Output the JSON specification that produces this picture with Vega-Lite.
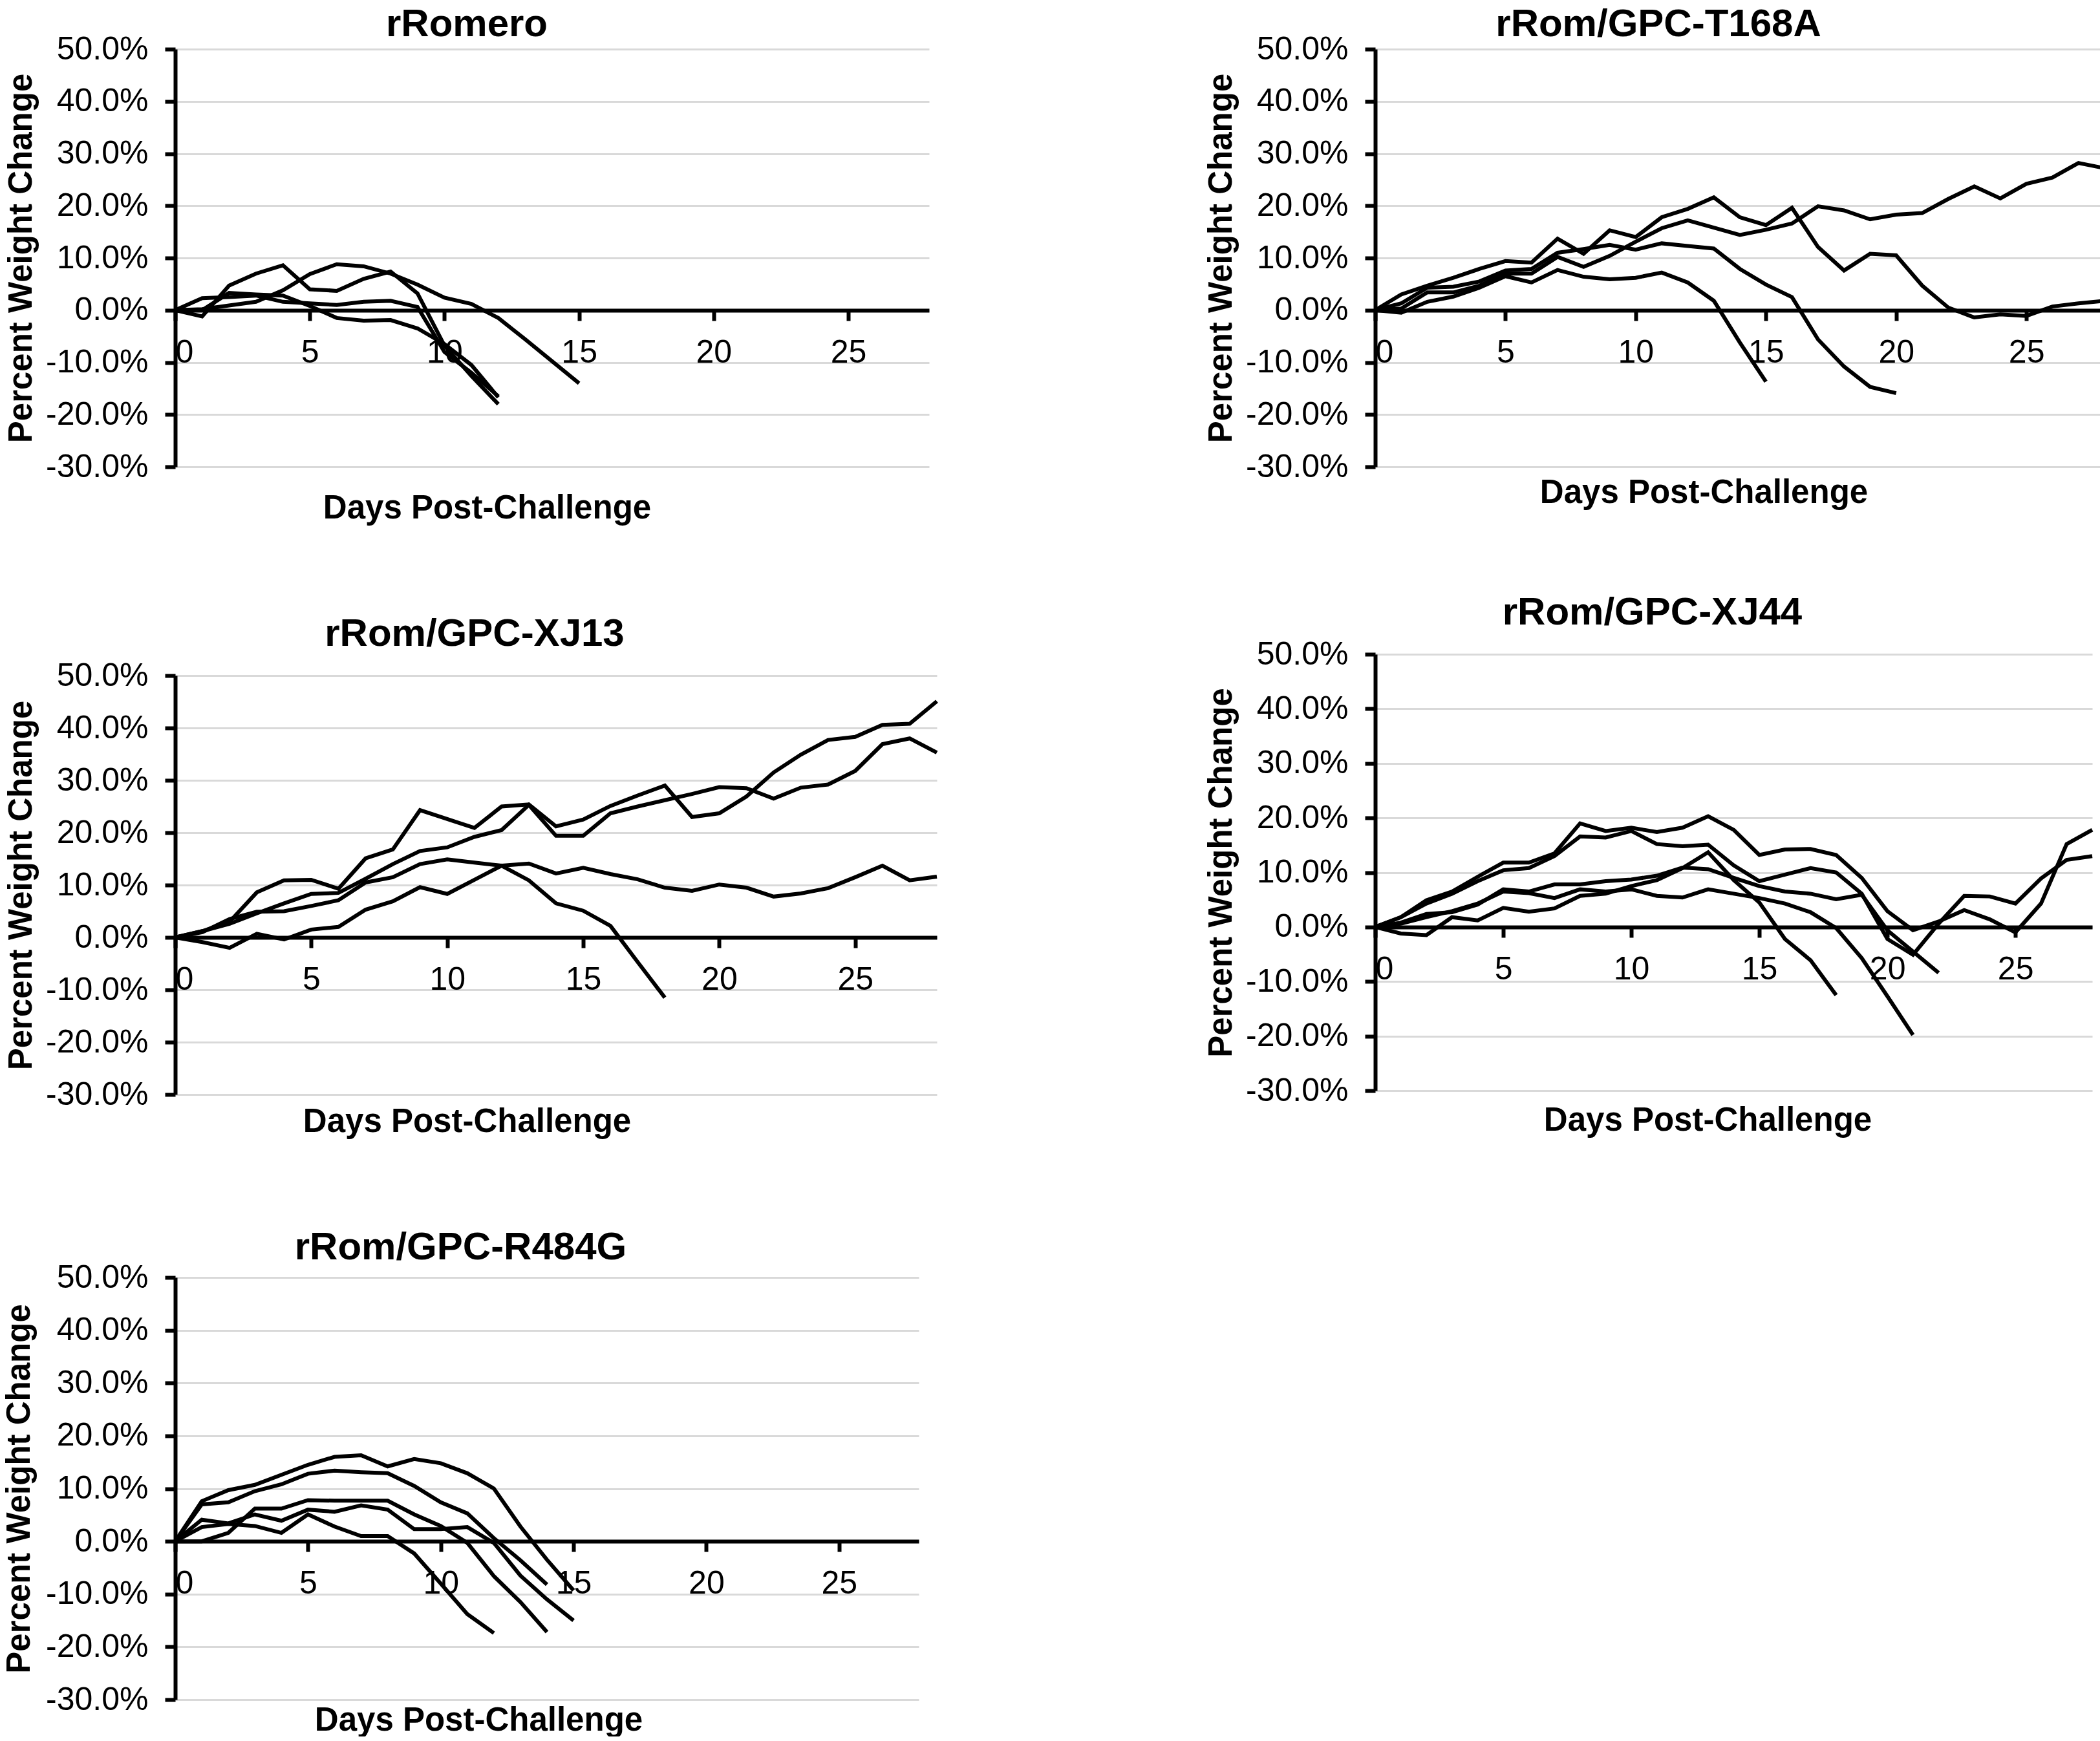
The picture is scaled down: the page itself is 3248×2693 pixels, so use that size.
{
  "$schema": "https://vega.github.io/schema/vega-lite/v6.json",
  "padding": {"top": 8, "left": 4, "right": 0, "bottom": 0},
  "background": "white",
  "data": {"values": [
    {"p":"R","a":1,"d":0,"v":0},{"p":"R","a":1,"d":1,"v":-1.2},{"p":"R","a":1,"d":2,"v":4.7},{"p":"R","a":1,"d":3,"v":7.0},{"p":"R","a":1,"d":4,"v":8.6},{"p":"R","a":1,"d":5,"v":4.0},{"p":"R","a":1,"d":6,"v":3.7},{"p":"R","a":1,"d":7,"v":6.0},{"p":"R","a":1,"d":8,"v":7.4},{"p":"R","a":1,"d":9,"v":3.2},{"p":"R","a":1,"d":10,"v":-6.8},{"p":"R","a":1,"d":11,"v":-12.6},{"p":"R","a":1,"d":12,"v":-18.0},
    {"p":"R","a":2,"d":0,"v":0},{"p":"R","a":2,"d":1,"v":0.2},{"p":"R","a":2,"d":2,"v":0.9},{"p":"R","a":2,"d":3,"v":1.6},{"p":"R","a":2,"d":4,"v":3.8},{"p":"R","a":2,"d":5,"v":6.9},{"p":"R","a":2,"d":6,"v":8.8},{"p":"R","a":2,"d":7,"v":8.4},{"p":"R","a":2,"d":8,"v":7.0},{"p":"R","a":2,"d":9,"v":4.9},{"p":"R","a":2,"d":10,"v":2.4},{"p":"R","a":2,"d":11,"v":1.2},{"p":"R","a":2,"d":12,"v":-1.5},{"p":"R","a":2,"d":13,"v":-5.6},{"p":"R","a":2,"d":14,"v":-9.8},{"p":"R","a":2,"d":15,"v":-14.0},
    {"p":"R","a":3,"d":0,"v":0},{"p":"R","a":3,"d":1,"v":2.3},{"p":"R","a":3,"d":2,"v":2.5},{"p":"R","a":3,"d":3,"v":2.8},{"p":"R","a":3,"d":4,"v":1.6},{"p":"R","a":3,"d":5,"v":1.3},{"p":"R","a":3,"d":6,"v":1.0},{"p":"R","a":3,"d":7,"v":1.6},{"p":"R","a":3,"d":8,"v":1.8},{"p":"R","a":3,"d":9,"v":0.6},{"p":"R","a":3,"d":10,"v":-8.0},{"p":"R","a":3,"d":11,"v":-12.0},{"p":"R","a":3,"d":12,"v":-16.5},
    {"p":"R","a":4,"d":0,"v":0},{"p":"R","a":4,"d":1,"v":0},{"p":"R","a":4,"d":2,"v":3.3},{"p":"R","a":4,"d":3,"v":3.0},{"p":"R","a":4,"d":4,"v":2.8},{"p":"R","a":4,"d":5,"v":0.8},{"p":"R","a":4,"d":6,"v":-1.5},{"p":"R","a":4,"d":7,"v":-2.0},{"p":"R","a":4,"d":8,"v":-1.9},{"p":"R","a":4,"d":9,"v":-3.5},{"p":"R","a":4,"d":10,"v":-6.5},{"p":"R","a":4,"d":11,"v":-10.5},{"p":"R","a":4,"d":12,"v":-16.7},

    {"p":"T","a":1,"d":0,"v":0},{"p":"T","a":1,"d":1,"v":0.3},{"p":"T","a":1,"d":2,"v":3.4},{"p":"T","a":1,"d":3,"v":3.4},{"p":"T","a":1,"d":4,"v":4.7},{"p":"T","a":1,"d":5,"v":7.0},{"p":"T","a":1,"d":6,"v":7.0},{"p":"T","a":1,"d":7,"v":10.2},{"p":"T","a":1,"d":8,"v":8.3},{"p":"T","a":1,"d":9,"v":10.4},{"p":"T","a":1,"d":10,"v":13.1},{"p":"T","a":1,"d":11,"v":15.7},{"p":"T","a":1,"d":12,"v":17.2},{"p":"T","a":1,"d":13,"v":15.8},{"p":"T","a":1,"d":14,"v":14.4},{"p":"T","a":1,"d":15,"v":15.4},{"p":"T","a":1,"d":16,"v":16.6},{"p":"T","a":1,"d":17,"v":19.9},{"p":"T","a":1,"d":18,"v":19.1},{"p":"T","a":1,"d":19,"v":17.4},{"p":"T","a":1,"d":20,"v":18.3},{"p":"T","a":1,"d":21,"v":18.6},{"p":"T","a":1,"d":22,"v":21.3},{"p":"T","a":1,"d":23,"v":23.7},{"p":"T","a":1,"d":24,"v":21.4},{"p":"T","a":1,"d":25,"v":24.2},{"p":"T","a":1,"d":26,"v":25.4},{"p":"T","a":1,"d":27,"v":28.2},{"p":"T","a":1,"d":28,"v":27.2},
    {"p":"T","a":2,"d":0,"v":0},{"p":"T","a":2,"d":1,"v":3.0},{"p":"T","a":2,"d":2,"v":4.7},{"p":"T","a":2,"d":3,"v":6.2},{"p":"T","a":2,"d":4,"v":7.9},{"p":"T","a":2,"d":5,"v":9.4},{"p":"T","a":2,"d":6,"v":9.1},{"p":"T","a":2,"d":7,"v":13.7},{"p":"T","a":2,"d":8,"v":10.8},{"p":"T","a":2,"d":9,"v":15.3},{"p":"T","a":2,"d":10,"v":14.0},{"p":"T","a":2,"d":11,"v":17.8},{"p":"T","a":2,"d":12,"v":19.4},{"p":"T","a":2,"d":13,"v":21.6},{"p":"T","a":2,"d":14,"v":17.8},{"p":"T","a":2,"d":15,"v":16.3},{"p":"T","a":2,"d":16,"v":19.6},{"p":"T","a":2,"d":17,"v":12.1},{"p":"T","a":2,"d":18,"v":7.6},{"p":"T","a":2,"d":19,"v":10.8},{"p":"T","a":2,"d":20,"v":10.5},{"p":"T","a":2,"d":21,"v":4.7},{"p":"T","a":2,"d":22,"v":0.5},{"p":"T","a":2,"d":23,"v":-1.4},{"p":"T","a":2,"d":24,"v":-0.8},{"p":"T","a":2,"d":25,"v":-1.1},{"p":"T","a":2,"d":26,"v":0.7},{"p":"T","a":2,"d":27,"v":1.3},{"p":"T","a":2,"d":28,"v":1.8},
    {"p":"T","a":3,"d":0,"v":0},{"p":"T","a":3,"d":1,"v":1.3},{"p":"T","a":3,"d":2,"v":4.3},{"p":"T","a":3,"d":3,"v":4.5},{"p":"T","a":3,"d":4,"v":5.5},{"p":"T","a":3,"d":5,"v":7.6},{"p":"T","a":3,"d":6,"v":7.9},{"p":"T","a":3,"d":7,"v":11.0},{"p":"T","a":3,"d":8,"v":11.7},{"p":"T","a":3,"d":9,"v":12.5},{"p":"T","a":3,"d":10,"v":11.6},{"p":"T","a":3,"d":11,"v":12.8},{"p":"T","a":3,"d":12,"v":12.3},{"p":"T","a":3,"d":13,"v":11.8},{"p":"T","a":3,"d":14,"v":7.9},{"p":"T","a":3,"d":15,"v":4.9},{"p":"T","a":3,"d":16,"v":2.5},{"p":"T","a":3,"d":17,"v":-5.6},{"p":"T","a":3,"d":18,"v":-10.8},{"p":"T","a":3,"d":19,"v":-14.7},{"p":"T","a":3,"d":20,"v":-15.9},
    {"p":"T","a":4,"d":0,"v":0},{"p":"T","a":4,"d":1,"v":-0.5},{"p":"T","a":4,"d":2,"v":1.6},{"p":"T","a":4,"d":3,"v":2.6},{"p":"T","a":4,"d":4,"v":4.3},{"p":"T","a":4,"d":5,"v":6.5},{"p":"T","a":4,"d":6,"v":5.3},{"p":"T","a":4,"d":7,"v":7.7},{"p":"T","a":4,"d":8,"v":6.4},{"p":"T","a":4,"d":9,"v":5.9},{"p":"T","a":4,"d":10,"v":6.2},{"p":"T","a":4,"d":11,"v":7.2},{"p":"T","a":4,"d":12,"v":5.3},{"p":"T","a":4,"d":13,"v":1.8},{"p":"T","a":4,"d":14,"v":-6.2},{"p":"T","a":4,"d":15,"v":-13.7},

    {"p":"X13","a":1,"d":0,"v":0},{"p":"X13","a":1,"d":1,"v":1.2},{"p":"X13","a":1,"d":2,"v":3.0},{"p":"X13","a":1,"d":3,"v":8.6},{"p":"X13","a":1,"d":4,"v":10.9},{"p":"X13","a":1,"d":5,"v":11.0},{"p":"X13","a":1,"d":6,"v":9.3},{"p":"X13","a":1,"d":7,"v":15.1},{"p":"X13","a":1,"d":8,"v":16.8},{"p":"X13","a":1,"d":9,"v":24.3},{"p":"X13","a":1,"d":10,"v":22.6},{"p":"X13","a":1,"d":11,"v":20.9},{"p":"X13","a":1,"d":12,"v":25.0},{"p":"X13","a":1,"d":13,"v":25.4},{"p":"X13","a":1,"d":14,"v":21.2},{"p":"X13","a":1,"d":15,"v":22.5},{"p":"X13","a":1,"d":16,"v":25.1},{"p":"X13","a":1,"d":17,"v":27.1},{"p":"X13","a":1,"d":18,"v":29.0},{"p":"X13","a":1,"d":19,"v":23.0},{"p":"X13","a":1,"d":20,"v":23.7},{"p":"X13","a":1,"d":21,"v":26.9},{"p":"X13","a":1,"d":22,"v":31.5},{"p":"X13","a":1,"d":23,"v":34.9},{"p":"X13","a":1,"d":24,"v":37.7},{"p":"X13","a":1,"d":25,"v":38.3},{"p":"X13","a":1,"d":26,"v":40.6},{"p":"X13","a":1,"d":27,"v":40.8},{"p":"X13","a":1,"d":28,"v":45.1},
    {"p":"X13","a":2,"d":0,"v":0},{"p":"X13","a":2,"d":1,"v":1.2},{"p":"X13","a":2,"d":2,"v":2.6},{"p":"X13","a":2,"d":3,"v":4.6},{"p":"X13","a":2,"d":4,"v":6.5},{"p":"X13","a":2,"d":5,"v":8.3},{"p":"X13","a":2,"d":6,"v":8.5},{"p":"X13","a":2,"d":7,"v":11.2},{"p":"X13","a":2,"d":8,"v":14.0},{"p":"X13","a":2,"d":9,"v":16.5},{"p":"X13","a":2,"d":10,"v":17.2},{"p":"X13","a":2,"d":11,"v":19.2},{"p":"X13","a":2,"d":12,"v":20.5},{"p":"X13","a":2,"d":13,"v":25.3},{"p":"X13","a":2,"d":14,"v":19.4},{"p":"X13","a":2,"d":15,"v":19.4},{"p":"X13","a":2,"d":16,"v":23.7},{"p":"X13","a":2,"d":17,"v":25.0},{"p":"X13","a":2,"d":18,"v":26.2},{"p":"X13","a":2,"d":19,"v":27.4},{"p":"X13","a":2,"d":20,"v":28.7},{"p":"X13","a":2,"d":21,"v":28.5},{"p":"X13","a":2,"d":22,"v":26.5},{"p":"X13","a":2,"d":23,"v":28.6},{"p":"X13","a":2,"d":24,"v":29.2},{"p":"X13","a":2,"d":25,"v":31.8},{"p":"X13","a":2,"d":26,"v":36.9},{"p":"X13","a":2,"d":27,"v":38.0},{"p":"X13","a":2,"d":28,"v":35.3},
    {"p":"X13","a":3,"d":0,"v":0},{"p":"X13","a":3,"d":1,"v":-0.9},{"p":"X13","a":3,"d":2,"v":-2.0},{"p":"X13","a":3,"d":3,"v":0.7},{"p":"X13","a":3,"d":4,"v":-0.4},{"p":"X13","a":3,"d":5,"v":1.5},{"p":"X13","a":3,"d":6,"v":2.0},{"p":"X13","a":3,"d":7,"v":5.3},{"p":"X13","a":3,"d":8,"v":6.9},{"p":"X13","a":3,"d":9,"v":9.6},{"p":"X13","a":3,"d":10,"v":8.3},{"p":"X13","a":3,"d":11,"v":11.0},{"p":"X13","a":3,"d":12,"v":13.7},{"p":"X13","a":3,"d":13,"v":10.9},{"p":"X13","a":3,"d":14,"v":6.5},{"p":"X13","a":3,"d":15,"v":5.1},{"p":"X13","a":3,"d":16,"v":2.2},{"p":"X13","a":3,"d":17,"v":-4.7},{"p":"X13","a":3,"d":18,"v":-11.5},
    {"p":"X13","a":4,"d":0,"v":0},{"p":"X13","a":4,"d":1,"v":1.0},{"p":"X13","a":4,"d":2,"v":3.5},{"p":"X13","a":4,"d":3,"v":4.9},{"p":"X13","a":4,"d":4,"v":5.0},{"p":"X13","a":4,"d":5,"v":6.0},{"p":"X13","a":4,"d":6,"v":7.1},{"p":"X13","a":4,"d":7,"v":10.5},{"p":"X13","a":4,"d":8,"v":11.5},{"p":"X13","a":4,"d":9,"v":14.0},{"p":"X13","a":4,"d":10,"v":14.9},{"p":"X13","a":4,"d":11,"v":14.3},{"p":"X13","a":4,"d":12,"v":13.7},{"p":"X13","a":4,"d":13,"v":14.1},{"p":"X13","a":4,"d":14,"v":12.2},{"p":"X13","a":4,"d":15,"v":13.3},{"p":"X13","a":4,"d":16,"v":12.1},{"p":"X13","a":4,"d":17,"v":11.1},{"p":"X13","a":4,"d":18,"v":9.5},{"p":"X13","a":4,"d":19,"v":8.9},{"p":"X13","a":4,"d":20,"v":10.1},{"p":"X13","a":4,"d":21,"v":9.5},{"p":"X13","a":4,"d":22,"v":7.8},{"p":"X13","a":4,"d":23,"v":8.4},{"p":"X13","a":4,"d":24,"v":9.4},{"p":"X13","a":4,"d":25,"v":11.5},{"p":"X13","a":4,"d":26,"v":13.7},{"p":"X13","a":4,"d":27,"v":10.9},{"p":"X13","a":4,"d":28,"v":11.6},

    {"p":"X44","a":1,"d":0,"v":0},{"p":"X44","a":1,"d":1,"v":1.8},{"p":"X44","a":1,"d":2,"v":4.9},{"p":"X44","a":1,"d":3,"v":6.5},{"p":"X44","a":1,"d":4,"v":9.2},{"p":"X44","a":1,"d":5,"v":11.8},{"p":"X44","a":1,"d":6,"v":11.8},{"p":"X44","a":1,"d":7,"v":13.5},{"p":"X44","a":1,"d":8,"v":19.0},{"p":"X44","a":1,"d":9,"v":17.6},{"p":"X44","a":1,"d":10,"v":18.2},{"p":"X44","a":1,"d":11,"v":17.4},{"p":"X44","a":1,"d":12,"v":18.2},{"p":"X44","a":1,"d":13,"v":20.3},{"p":"X44","a":1,"d":14,"v":17.8},{"p":"X44","a":1,"d":15,"v":13.2},{"p":"X44","a":1,"d":16,"v":14.2},{"p":"X44","a":1,"d":17,"v":14.3},{"p":"X44","a":1,"d":18,"v":13.2},{"p":"X44","a":1,"d":19,"v":9.0},{"p":"X44","a":1,"d":20,"v":2.9},{"p":"X44","a":1,"d":21,"v":-0.6},{"p":"X44","a":1,"d":22,"v":1.0},{"p":"X44","a":1,"d":23,"v":3.1},{"p":"X44","a":1,"d":24,"v":1.4},{"p":"X44","a":1,"d":25,"v":-1.0},{"p":"X44","a":1,"d":26,"v":4.3},{"p":"X44","a":1,"d":27,"v":15.2},{"p":"X44","a":1,"d":28,"v":17.8},
    {"p":"X44","a":2,"d":0,"v":0},{"p":"X44","a":2,"d":1,"v":1.8},{"p":"X44","a":2,"d":2,"v":4.3},{"p":"X44","a":2,"d":3,"v":6.1},{"p":"X44","a":2,"d":4,"v":8.4},{"p":"X44","a":2,"d":5,"v":10.4},{"p":"X44","a":2,"d":6,"v":10.8},{"p":"X44","a":2,"d":7,"v":13.0},{"p":"X44","a":2,"d":8,"v":16.6},{"p":"X44","a":2,"d":9,"v":16.4},{"p":"X44","a":2,"d":10,"v":17.6},{"p":"X44","a":2,"d":11,"v":15.2},{"p":"X44","a":2,"d":12,"v":14.8},{"p":"X44","a":2,"d":13,"v":15.1},{"p":"X44","a":2,"d":14,"v":11.3},{"p":"X44","a":2,"d":15,"v":8.4},{"p":"X44","a":2,"d":16,"v":9.6},{"p":"X44","a":2,"d":17,"v":10.8},{"p":"X44","a":2,"d":18,"v":10.0},{"p":"X44","a":2,"d":19,"v":6.1},{"p":"X44","a":2,"d":20,"v":-2.2},{"p":"X44","a":2,"d":21,"v":-5.1},{"p":"X44","a":2,"d":22,"v":0.6},{"p":"X44","a":2,"d":23,"v":5.7},{"p":"X44","a":2,"d":24,"v":5.6},{"p":"X44","a":2,"d":25,"v":4.3},{"p":"X44","a":2,"d":26,"v":8.9},{"p":"X44","a":2,"d":27,"v":12.3},{"p":"X44","a":2,"d":28,"v":13.0},
    {"p":"X44","a":3,"d":0,"v":0},{"p":"X44","a":3,"d":1,"v":-1.2},{"p":"X44","a":3,"d":2,"v":-1.5},{"p":"X44","a":3,"d":3,"v":1.8},{"p":"X44","a":3,"d":4,"v":1.2},{"p":"X44","a":3,"d":5,"v":3.5},{"p":"X44","a":3,"d":6,"v":2.8},{"p":"X44","a":3,"d":7,"v":3.4},{"p":"X44","a":3,"d":8,"v":5.7},{"p":"X44","a":3,"d":9,"v":6.1},{"p":"X44","a":3,"d":10,"v":7.5},{"p":"X44","a":3,"d":11,"v":8.6},{"p":"X44","a":3,"d":12,"v":10.8},{"p":"X44","a":3,"d":13,"v":13.7},{"p":"X44","a":3,"d":14,"v":8.6},{"p":"X44","a":3,"d":15,"v":4.5},{"p":"X44","a":3,"d":16,"v":-2.2},{"p":"X44","a":3,"d":17,"v":-6.1},{"p":"X44","a":3,"d":18,"v":-12.5},
    {"p":"X44","a":4,"d":0,"v":0},{"p":"X44","a":4,"d":1,"v":0.8},{"p":"X44","a":4,"d":2,"v":2.4},{"p":"X44","a":4,"d":3,"v":2.7},{"p":"X44","a":4,"d":4,"v":4.1},{"p":"X44","a":4,"d":5,"v":6.9},{"p":"X44","a":4,"d":6,"v":6.5},{"p":"X44","a":4,"d":7,"v":7.8},{"p":"X44","a":4,"d":8,"v":7.8},{"p":"X44","a":4,"d":9,"v":8.4},{"p":"X44","a":4,"d":10,"v":8.7},{"p":"X44","a":4,"d":11,"v":9.4},{"p":"X44","a":4,"d":12,"v":10.9},{"p":"X44","a":4,"d":13,"v":10.6},{"p":"X44","a":4,"d":14,"v":9.0},{"p":"X44","a":4,"d":15,"v":7.5},{"p":"X44","a":4,"d":16,"v":6.5},{"p":"X44","a":4,"d":17,"v":6.1},{"p":"X44","a":4,"d":18,"v":5.1},{"p":"X44","a":4,"d":19,"v":5.9},{"p":"X44","a":4,"d":20,"v":-0.6},{"p":"X44","a":4,"d":21,"v":-4.5},{"p":"X44","a":4,"d":22,"v":-8.4},
    {"p":"X44","a":5,"d":0,"v":0},{"p":"X44","a":5,"d":1,"v":0.6},{"p":"X44","a":5,"d":2,"v":1.8},{"p":"X44","a":5,"d":3,"v":2.9},{"p":"X44","a":5,"d":4,"v":4.3},{"p":"X44","a":5,"d":5,"v":6.5},{"p":"X44","a":5,"d":6,"v":6.2},{"p":"X44","a":5,"d":7,"v":5.3},{"p":"X44","a":5,"d":8,"v":6.9},{"p":"X44","a":5,"d":9,"v":6.5},{"p":"X44","a":5,"d":10,"v":6.9},{"p":"X44","a":5,"d":11,"v":5.7},{"p":"X44","a":5,"d":12,"v":5.4},{"p":"X44","a":5,"d":13,"v":6.9},{"p":"X44","a":5,"d":14,"v":6.1},{"p":"X44","a":5,"d":15,"v":5.3},{"p":"X44","a":5,"d":16,"v":4.3},{"p":"X44","a":5,"d":17,"v":2.7},{"p":"X44","a":5,"d":18,"v":-0.2},{"p":"X44","a":5,"d":19,"v":-5.7},{"p":"X44","a":5,"d":20,"v":-12.7},{"p":"X44","a":5,"d":21,"v":-19.8},

    {"p":"G","a":1,"d":0,"v":0},{"p":"G","a":1,"d":1,"v":7.6},{"p":"G","a":1,"d":2,"v":9.7},{"p":"G","a":1,"d":3,"v":10.7},{"p":"G","a":1,"d":4,"v":12.6},{"p":"G","a":1,"d":5,"v":14.5},{"p":"G","a":1,"d":6,"v":16.0},{"p":"G","a":1,"d":7,"v":16.3},{"p":"G","a":1,"d":8,"v":14.2},{"p":"G","a":1,"d":9,"v":15.6},{"p":"G","a":1,"d":10,"v":14.8},{"p":"G","a":1,"d":11,"v":12.9},{"p":"G","a":1,"d":12,"v":10.0},{"p":"G","a":1,"d":13,"v":2.8},{"p":"G","a":1,"d":14,"v":-3.5},{"p":"G","a":1,"d":15,"v":-9.3},
    {"p":"G","a":2,"d":0,"v":0},{"p":"G","a":2,"d":1,"v":7.0},{"p":"G","a":2,"d":2,"v":7.4},{"p":"G","a":2,"d":3,"v":9.5},{"p":"G","a":2,"d":4,"v":10.8},{"p":"G","a":2,"d":5,"v":12.8},{"p":"G","a":2,"d":6,"v":13.4},{"p":"G","a":2,"d":7,"v":13.1},{"p":"G","a":2,"d":8,"v":12.9},{"p":"G","a":2,"d":9,"v":10.5},{"p":"G","a":2,"d":10,"v":7.4},{"p":"G","a":2,"d":11,"v":5.3},{"p":"G","a":2,"d":12,"v":0.6},{"p":"G","a":2,"d":13,"v":-3.6},{"p":"G","a":2,"d":14,"v":-8.2},
    {"p":"G","a":3,"d":0,"v":0},{"p":"G","a":3,"d":1,"v":0},{"p":"G","a":3,"d":2,"v":1.6},{"p":"G","a":3,"d":3,"v":6.2},{"p":"G","a":3,"d":4,"v":6.2},{"p":"G","a":3,"d":5,"v":7.8},{"p":"G","a":3,"d":6,"v":7.7},{"p":"G","a":3,"d":7,"v":7.7},{"p":"G","a":3,"d":8,"v":7.7},{"p":"G","a":3,"d":9,"v":5.1},{"p":"G","a":3,"d":10,"v":2.9},{"p":"G","a":3,"d":11,"v":-0.3},{"p":"G","a":3,"d":12,"v":-6.6},{"p":"G","a":3,"d":13,"v":-11.5},{"p":"G","a":3,"d":14,"v":-17.2},
    {"p":"G","a":4,"d":0,"v":0},{"p":"G","a":4,"d":1,"v":4.1},{"p":"G","a":4,"d":2,"v":3.4},{"p":"G","a":4,"d":3,"v":5.1},{"p":"G","a":4,"d":4,"v":3.9},{"p":"G","a":4,"d":5,"v":6.0},{"p":"G","a":4,"d":6,"v":5.6},{"p":"G","a":4,"d":7,"v":6.8},{"p":"G","a":4,"d":8,"v":6.0},{"p":"G","a":4,"d":9,"v":2.3},{"p":"G","a":4,"d":10,"v":2.3},{"p":"G","a":4,"d":11,"v":2.7},{"p":"G","a":4,"d":12,"v":-0.3},{"p":"G","a":4,"d":13,"v":-6.5},{"p":"G","a":4,"d":14,"v":-11.0},{"p":"G","a":4,"d":15,"v":-15.0},
    {"p":"G","a":5,"d":0,"v":0},{"p":"G","a":5,"d":1,"v":2.7},{"p":"G","a":5,"d":2,"v":3.3},{"p":"G","a":5,"d":3,"v":2.9},{"p":"G","a":5,"d":4,"v":1.6},{"p":"G","a":5,"d":5,"v":5.1},{"p":"G","a":5,"d":6,"v":2.8},{"p":"G","a":5,"d":7,"v":1.0},{"p":"G","a":5,"d":8,"v":1.0},{"p":"G","a":5,"d":9,"v":-2.3},{"p":"G","a":5,"d":10,"v":-8.0},{"p":"G","a":5,"d":11,"v":-13.8},{"p":"G","a":5,"d":12,"v":-17.4}
  ]},
  "config": {
    "view": {"stroke": null},
    "font": "Liberation Sans",
    "title": {"font": "Liberation Sans", "fontSize": 60, "fontWeight": "bold", "color": "black", "anchor": "middle", "frame": "bounds", "offset": -10},
    "axis": {
      "labelFont": "Liberation Sans", "labelFontSize": 50, "labelColor": "black",
      "titleFont": "Liberation Sans", "titleFontSize": 51, "titleFontWeight": "bold", "titleColor": "black",
      "domainColor": "black", "domainWidth": 6, "tickColor": "black", "tickWidth": 6, "tickSize": 16
    },
    "axisX": {"grid": false, "labelPadding": 24, "titleAlign": "center", "titleBaseline": "alphabetic"},
    "axisY": {"grid": true, "gridColor": "#d9d9d9", "gridWidth": 3, "labelPadding": 26, "titlePadding": 12,
              "labelExpr": "replace(format(datum.value, '.1f'), '\u2212', '-') + '%'"}
  },
  "spacing": 402,
  "hconcat": [
    {
      "spacing": 140,
      "vconcat": [
        {
          "title": {"text": "rRomero", "offset": -18},
          "width": 1166, "height": 646,
          "transform": [{"filter": "datum.p == 'R'"}],
          "mark": {"type": "line", "color": "black", "strokeWidth": 6},
          "encoding": {
            "x": {"field": "d", "type": "quantitative", "scale": {"domain": [0, 28], "nice": false},
                  "axis": {"title": "Days Post-Challenge", "values": [0, 5, 10, 15, 20, 25], "offset": -242, "titleX": 482, "titleY": 321}},
            "y": {"field": "v", "type": "quantitative", "scale": {"domain": [-30, 50], "nice": false},
                  "axis": {"title": "Percent Weight Change", "values": [-30, -20, -10, 0, 10, 20, 30, 40, 50]}},
            "detail": {"field": "a", "type": "nominal"}
          }
        },
        {
          "title": {"text": "rRom/GPC-XJ13", "offset": 8},
          "width": 1178, "height": 648,
          "transform": [{"filter": "datum.p == 'X13'"}],
          "mark": {"type": "line", "color": "black", "strokeWidth": 6},
          "encoding": {
            "x": {"field": "d", "type": "quantitative", "scale": {"domain": [0, 28], "nice": false},
                  "axis": {"title": "Days Post-Challenge", "values": [0, 5, 10, 15, 20, 25], "offset": -243, "titleX": 451, "titleY": 300}},
            "y": {"field": "v", "type": "quantitative", "scale": {"domain": [-30, 50], "nice": false},
                  "axis": {"title": "Percent Weight Change", "values": [-30, -20, -10, 0, 10, 20, 30, 40, 50]}},
            "detail": {"field": "a", "type": "nominal"}
          }
        },
        {
          "title": "rRom/GPC-R484G",
          "width": 1150, "height": 653,
          "transform": [{"filter": "datum.p == 'G'"}],
          "mark": {"type": "line", "color": "black", "strokeWidth": 6},
          "encoding": {
            "x": {"field": "d", "type": "quantitative", "scale": {"domain": [0, 28], "nice": false},
                  "axis": {"title": "Days Post-Challenge", "values": [0, 5, 10, 15, 20, 25], "offset": -245, "titleX": 469, "titleY": 292}},
            "y": {"field": "v", "type": "quantitative", "scale": {"domain": [-30, 50], "nice": false},
                  "axis": {"title": "Percent Weight Change", "values": [-30, -20, -10, 0, 10, 20, 30, 40, 50], "titlePadding": 15}},
            "detail": {"field": "a", "type": "nominal"}
          }
        }
      ]
    },
    {
      "spacing": 131,
      "vconcat": [
        {
          "title": {"text": "rRom/GPC-T168A", "offset": -18},
          "width": 1128, "height": 646,
          "transform": [{"filter": "datum.p == 'T'"}],
          "mark": {"type": "line", "color": "black", "strokeWidth": 6},
          "encoding": {
            "x": {"field": "d", "type": "quantitative", "scale": {"domain": [0, 28], "nice": false},
                  "axis": {"title": "Days Post-Challenge", "values": [0, 5, 10, 15, 20, 25], "offset": -242, "titleX": 508, "titleY": 297}},
            "y": {"field": "v", "type": "quantitative", "scale": {"domain": [-30, 50], "nice": false},
                  "axis": {"title": "Percent Weight Change", "values": [-30, -20, -10, 0, 10, 20, 30, 40, 50]}},
            "detail": {"field": "a", "type": "nominal"}
          }
        },
        {
          "title": {"text": "rRom/GPC-XJ44", "offset": 8},
          "width": 1109, "height": 675,
          "transform": [{"filter": "datum.p == 'X44'"}],
          "mark": {"type": "line", "color": "black", "strokeWidth": 6},
          "encoding": {
            "x": {"field": "d", "type": "quantitative", "scale": {"domain": [0, 28], "nice": false},
                  "axis": {"title": "Days Post-Challenge", "values": [0, 5, 10, 15, 20, 25], "offset": -253, "titleX": 514, "titleY": 314}},
            "y": {"field": "v", "type": "quantitative", "scale": {"domain": [-30, 50], "nice": false},
                  "axis": {"title": "Percent Weight Change", "values": [-30, -20, -10, 0, 10, 20, 30, 40, 50]}},
            "detail": {"field": "a", "type": "nominal"}
          }
        }
      ]
    }
  ]
}
